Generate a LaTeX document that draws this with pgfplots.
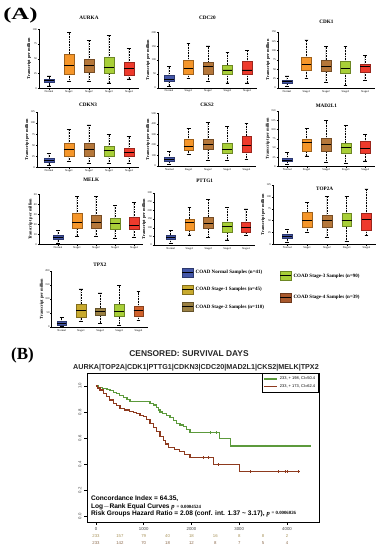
\documentclass[border=0pt]{standalone}
\usepackage{pgfplots}
\pgfplotsset{compat=1.18}
\usepgfplotslibrary{statistics}
\usepackage{fontspec}
\setmainfont{Liberation Serif}
\setsansfont{Liberation Sans}
\definecolor{cN}{HTML}{4356A8}
\definecolor{cS1}{HTML}{F5962A}
\definecolor{cS2}{HTML}{B5773A}
\definecolor{cS3}{HTML}{A8CF38}
\definecolor{cS4}{HTML}{EE3A2C}
\definecolor{tS1}{HTML}{C8AA2E}
\definecolor{tS2}{HTML}{9A8042}
\definecolor{tS4}{HTML}{D0622C}
\definecolor{lS4}{HTML}{A8582C}
\definecolor{kmG}{HTML}{5C9A3C}
\definecolor{kmR}{HTML}{8E3A1E}
\definecolor{rk1}{HTML}{A8935A}
\definecolor{rk2}{HTML}{8C6A4C}

\newcommand{\bx}[7]{\addplot[boxplot prepared={draw position=#2, lower whisker=#3, lower quartile=#4, median=#5, upper quartile=#6, upper whisker=#7}, fill=#1, draw=#1!65!black, line width=0.3pt] coordinates {};}
\newcommand{\rk}[3]{%
  \node[font=\sffamily\fontsize{4.3}{4.5}\selectfont, text=rk1, inner sep=0pt] at (axis cs:#1,-0.154) {#2};
  \node[font=\sffamily\fontsize{4.3}{4.5}\selectfont, text=rk2, inner sep=0pt] at (axis cs:#1,-0.208) {#3};}

\pgfplotsset{
 gene/.style={
   scale only axis, anchor=south west, ymin=0, xmax=4.5,
   axis x line*=bottom, axis y line*=left,
   xtick={0,1,2,3,4}, xticklabels={Normal,Stage1,Stage2,Stage3,Stage4},
   tick align=outside, major tick length=1.2pt,
   every tick/.style={black, line width=0.3pt},
   axis line style={line width=0.4pt},
   xticklabel style={font=\fontsize{2.8}{3}\selectfont, inner sep=0.8pt},
   yticklabel style={font=\fontsize{2.8}{3}\selectfont, inner sep=0.8pt},
   /pgf/number format/assume math mode=true,
   /pgf/number format/1000 sep={},
   ylabel={Transcript per million},
   ylabel style={font=\bfseries\fontsize{4.3}{4.5}\selectfont, inner sep=0.5pt},
   title style={font=\bfseries\fontsize{5.2}{5.5}\selectfont, inner sep=0pt, at={(0.5,1)}, anchor=center},
   boxplot/draw direction=y,
   boxplot/box extend=0.5, boxplot/whisker extend=0.2,
   boxplot/every median/.style={black, line width=0.9pt},
   boxplot/draw/lower whisker/.code={%
     \draw[black, densely dotted, line width=0.6pt] (boxplot cs:\pgfplotsboxplotvalue{lower whisker}) -- (boxplot cs:\pgfplotsboxplotvalue{lower quartile});
     \draw[black, line width=0.6pt] (boxplot whisker cs:\pgfplotsboxplotvalue{lower whisker},0) -- (boxplot whisker cs:\pgfplotsboxplotvalue{lower whisker},1);
   },
   boxplot/draw/upper whisker/.code={%
     \draw[black, densely dotted, line width=0.6pt] (boxplot cs:\pgfplotsboxplotvalue{upper quartile}) -- (boxplot cs:\pgfplotsboxplotvalue{upper whisker});
     \draw[black, line width=0.6pt] (boxplot whisker cs:\pgfplotsboxplotvalue{upper whisker},0) -- (boxplot whisker cs:\pgfplotsboxplotvalue{upper whisker},1);
   },
 },
 legA/.style={scale only axis, anchor=south west, width=1pt, height=1pt, hide axis, xmin=0,xmax=1,ymin=0,ymax=1,
   legend style={at={(0,0)}, anchor=north west, draw=none, fill=none, font=\bfseries\fontsize{5}{5.5}\selectfont, row sep=7.5pt, inner sep=0pt, /tikz/every even column/.append style={column sep=4pt}},
   legend cell align=left,
   legend image code/.code={\filldraw[##1, line width=0.3pt] (0pt,-4pt) rectangle (11pt,5pt); \draw[black, line width=0.8pt] (0pt,0.5pt) -- (11pt,0.5pt);}},
}

\begin{document}
\begin{tikzpicture}
\path[use as bounding box] (0,0) rectangle (383pt,-550pt);

\node[anchor=west, font=\bfseries\fontsize{17}{17}\selectfont, xscale=1.45, inner sep=0pt] at (3pt,-15.5pt) {(A)};
\node[anchor=west, font=\bfseries\fontsize{17}{17}\selectfont, inner sep=0pt] at (11pt,-355pt) {(B)};

% AURKA
\begin{axis}[gene, at={(39pt,-88.3pt)}, width=100pt, height=59pt, xmin=-0.5, ymax=100, ytick={0,25,50,75,100}, title={AURKA}, title style={yshift=5.3pt}]
\bx{cN}{0}{4}{9.6}{13}{15.8}{21}
\bx{cS1}{1}{12}{24}{39}{58}{95}
\bx{cS2}{2}{12}{27}{39}{49}{81}
\bx{cS3}{3}{9}{25}{36}{52.5}{89}
\bx{cS4}{4}{16}{22}{34}{44}{68}
\end{axis}
% CDC20
\begin{axis}[gene, at={(158pt,-87.7pt)}, width=98.75pt, height=55.4pt, xmin=-0.564, ymax=200, ytick={0,50,100,150,200}, title={CDC20}, title style={yshift=8.3pt}]
\bx{cN}{0}{6}{22}{31}{45}{76}
\bx{cS1}{1}{34}{49}{70}{99}{159}
\bx{cS2}{2}{22}{49}{77}{94}{151}
\bx{cS3}{3}{17}{48}{64}{82}{128}
\bx{cS4}{4}{17}{49}{64}{95}{136}
\end{axis}
% CDK1
\begin{axis}[gene, at={(278pt,-88pt)}, width=96.75pt, height=56.3pt, xmin=-0.46, ymax=150, ytick={0,25,50,75,100,125,150}, title={CDK1}, title style={yshift=4pt}]
\bx{cN}{0}{5}{12.4}{18}{21}{32}
\bx{cS1}{1}{25}{48}{63}{81}{128}
\bx{cS2}{2}{15}{45}{57}{74.5}{110}
\bx{cS3}{3}{8}{39}{53}{71}{110}
\bx{cS4}{4}{19.5}{42}{57}{63}{86}
\end{axis}
% CDKN3
\begin{axis}[gene, at={(37pt,-167.3pt)}, width=102pt, height=55.3pt, xmin=-0.6, ymax=125, ytick={0,25,50,75,100,125}, title={CDKN3}, title style={yshift=1pt}]
\bx{cN}{0}{5}{11}{16}{20}{31.6}
\bx{cS1}{1}{13}{26}{41}{54}{86}
\bx{cS2}{2}{9}{25}{41}{54}{96}
\bx{cS3}{3}{9}{26}{37}{47}{75}
\bx{cS4}{4}{9}{25}{33}{43}{69}
\end{axis}
% CKS2
\begin{axis}[gene, at={(158pt,-166pt)}, width=98.15pt, height=52.7pt, xmin=-0.585, ymax=500, ytick={0,100,200,300,400,500}, title={CKS2}, title style={yshift=2.3pt}]
\bx{cN}{0}{16}{47}{66}{82}{136}
\bx{cS1}{1}{111}{152}{184}{253}{358}
\bx{cS2}{2}{54}{161}{206}{253}{411}
\bx{cS3}{3}{54}{120}{161}{215}{373}
\bx{cS4}{4}{63}{136}{193}{285}{405}
\end{axis}
% MAD2L1
\begin{axis}[gene, at={(277.7pt,-166.3pt)}, width=97.35pt, height=55.3pt, xmin=-0.49, ymax=150, ytick={0,25,50,75,100,125,150}, title={MAD2L1}, title style={yshift=-0.7pt}]
\bx{cN}{0}{5}{13}{17}{22}{37}
\bx{cS1}{1}{28}{42}{64}{73}{103}
\bx{cS2}{2}{11}{42}{58}{76}{124}
\bx{cS3}{3}{8}{35}{51}{64}{110}
\bx{cS4}{4}{14.5}{35}{49}{67}{87}
\end{axis}
% MELK
\begin{axis}[gene, at={(39pt,-244.3pt)}, width=104.5pt, height=50pt, xmin=-1, ymax=50, ytick={0,10,20,30,40,50}, title={MELK}, title style={yshift=8.3pt}]
\bx{cN}{0}{0.7}{5}{6.7}{8.7}{14}
\bx{cS1}{1}{8.3}{16}{22}{31}{47.7}
\bx{cS2}{2}{7.7}{16}{22}{28.7}{47.7}
\bx{cS3}{3}{6}{15.3}{21}{26}{38.7}
\bx{cS4}{4}{6.7}{15.3}{19.3}{26.7}{42}
\end{axis}
% PTTG1
\begin{axis}[gene, at={(154pt,-245pt)}, width=101.3pt, height=52pt, xmin=-0.89, ymax=300, ytick={0,50,100,150,200,250,300}, title={PTTG1}, title style={yshift=6pt}]
\bx{cN}{0}{10}{33}{42}{58}{83}
\bx{cS1}{1}{58}{87}{129}{150}{215}
\bx{cS2}{2}{42}{100}{125}{163}{263}
\bx{cS3}{3}{29}{73}{106}{131}{217}
\bx{cS4}{4}{54}{77}{102}{131}{208}
\end{axis}
% TOP2A
\begin{axis}[gene, at={(273pt,-244.3pt)}, width=103.4pt, height=59.3pt, xmin=-0.72, ymax=125, ytick={0,25,50,75,100,125}, title={TOP2A}, title style={yshift=-9.3pt}]
\bx{cN}{0}{3.5}{12.6}{16}{21}{31.5}
\bx{cS1}{1}{24.5}{37}{50}{68.5}{88}
\bx{cS2}{2}{14.7}{35.7}{50}{61.5}{101}
\bx{cS3}{3}{5.6}{38.5}{50}{65}{101}
\bx{cS4}{4}{18}{30}{53}{65}{117}
\end{axis}
% TPX2
\begin{axis}[gene, at={(51.7pt,-327pt)}, width=96.4pt, height=56pt, xmin=-0.52, ymax=200, ytick={0,50,100,150,200}, title={TPX2}, title style={yshift=0pt}]
\bx{cN}{0}{2}{8}{13}{20}{33}
\bx{tS1}{1}{20}{36}{60}{83}{136}
\bx{tS2}{2}{14}{42}{57}{68}{122}
\bx{cS3}{3}{6}{39}{56}{83}{150}
\bx{tS4}{4}{24}{38}{60}{74}{126}
\end{axis}

% legend panel A
\begin{axis}[legA, at={(181.7pt,-267.5pt)}]
\addlegendimage{fill=cN, draw=cN!65!black}
\addlegendentry{COAD Normal Samples (n=41)}
\addlegendimage{fill=tS1, draw=tS1!65!black}
\addlegendentry{COAD Stage-1 Samples (n=45)}
\addlegendimage{fill=tS2, draw=tS2!65!black}
\addlegendentry{COAD Stage-2 Samples (n=110)}
\end{axis}
\begin{axis}[legA, at={(279.5pt,-271pt)}, legend style={row sep=11.8pt}]
\addlegendimage{fill=cS3, draw=cS3!65!black}
\addlegendentry{COAD Stage-3 Samples (n=90)}
\addlegendimage{fill=lS4, draw=lS4!65!black}
\addlegendentry{COAD Stage-4 Samples (n=39)}
\end{axis}

% Panel B
\node[font=\sffamily\bfseries\fontsize{8.4}{8.4}\selectfont, text=black!85] at (189pt,-354pt) {CENSORED: SURVIVAL DAYS};
\node[font=\sffamily\bfseries\fontsize{7.2}{7.2}\selectfont, text=black!85] at (196pt,-368pt) {AURKA|TOP2A|CDK1|PTTG1|CDKN3|CDC20|MAD2L1|CKS2|MELK|TPX2};

\begin{axis}[at={(87pt,-522pt)}, anchor=south west, scale only axis, width=232pt, height=149pt,
 xmin=-188, xmax=4670, ymin=-0.046, ymax=1.1,
 xtick={0,1000,2000,3000,4000}, ytick={0,0.2,0.4,0.6,0.8,1.0},
 yticklabels={0.0,0.2,0.4,0.6,0.8,1.0},
 scaled ticks=false, /pgf/number format/1000 sep={},
 /pgf/number format/assume math mode=true,
 tick align=outside, major tick length=2.5pt,
 every tick/.style={black, line width=0.5pt},
 xticklabel style={font=\sffamily\fontsize{4.3}{4.5}\selectfont, text=black!75, inner sep=3pt},
 yticklabel style={font=\sffamily\fontsize{4.3}{4.5}\selectfont, text=black!75, rotate=90, anchor=south, inner sep=3pt},
 xtick pos=bottom, ytick pos=left,
 axis line style={line width=0.7pt},
 clip=false,
 legend style={at={(1,1)}, anchor=north east, draw=black, line width=0.6pt, font=\sffamily\fontsize{4}{4.5}\selectfont, inner sep=1.5pt, row sep=-0.5pt},
 legend cell align=left,
 legend image code/.code={\draw[#1, line width=1.1pt] (0pt,0pt) -- (13pt,0pt);},
]
\addplot[const plot, kmG, line width=1.2pt] coordinates {(0,1.0) (60,0.99) (140,0.982) (230,0.972) (293,0.964) (360,0.952) (432,0.94) (500,0.93) (580,0.912) (650,0.895) (711,0.879) (1130,0.866) (1200,0.854) (1260,0.835) (1310,0.815) (1339,0.80) (1400,0.79) (1470,0.775) (1548,0.755) (1620,0.732) (1688,0.712) (1760,0.70) (1830,0.688) (1900,0.668) (1967,0.641) (2594,0.597) (2810,0.538) (4477,0.538)};
\addlegendentry{233, + 198, CI=50.4}
\addplot[const plot, kmR, line width=1.2pt] coordinates {(0,1.0) (40,0.985) (84,0.969) (150,0.945) (223,0.918) (290,0.892) (362,0.867) (430,0.848) (502,0.828) (600,0.815) (700,0.805) (780,0.797) (850,0.787) (920,0.776) (990,0.764) (1060,0.74) (1130,0.713) (1200,0.682) (1269,0.649) (1340,0.614) (1409,0.579) (1460,0.554) (1513,0.528) (1640,0.51) (1757,0.495) (1860,0.472) (1967,0.451) (2455,0.397) (3013,0.341) (4268,0.341)};
\addlegendentry{233, + 173, CI=62.4}
\addplot[only marks, mark=+, mark size=1.3pt, kmG, forget plot] coordinates {(2385,0.641) (2525,0.641) (2970,0.538) (3535,0.538) (3640,0.538) (3786,0.538) (3954,0.538) (4100,0.538) (4477,0.538)};
\addplot[only marks, mark=+, mark size=1.3pt, kmR, forget plot] coordinates {(2247,0.451) (2352,0.451) (2561,0.397) (3222,0.341) (3814,0.341) (3954,0.341) (4003,0.341) (4233,0.341)};

\node[anchor=base west, inner sep=0pt, font=\sffamily\bfseries\fontsize{6.6}{6.6}\selectfont] at (axis cs:-105,0.121) {Concordance Index = 64.35,};
\node[anchor=base west, inner sep=0pt, font=\sffamily\bfseries\fontsize{6.6}{6.6}\selectfont] at (axis cs:-105,0.0615) {Log$-$Rank Equal Curves {\rmfamily\itshape p} {\rmfamily\fontsize{4.8}{4.8}\selectfont = 0.0004524}};
\node[anchor=base west, inner sep=0pt, font=\sffamily\bfseries\fontsize{6.6}{6.6}\selectfont] at (axis cs:-105,0.004) {Risk Groups Hazard Ratio = 2.08 (conf. int. 1.37 \textasciitilde{} 3.17), {\rmfamily\itshape p} \raisebox{1.2pt}{\rmfamily\fontsize{4.8}{4.8}\selectfont = 0.0006026}};

\rk{0}{233}{233}
\rk{500}{157}{142}
\rk{1000}{79}{70}
\rk{1500}{40}{18}
\rk{2000}{18}{12}
\rk{2500}{16}{8}
\rk{3000}{8}{7}
\rk{3500}{8}{5}
\rk{4000}{2}{4}
\end{axis}
\end{tikzpicture}
\end{document}
